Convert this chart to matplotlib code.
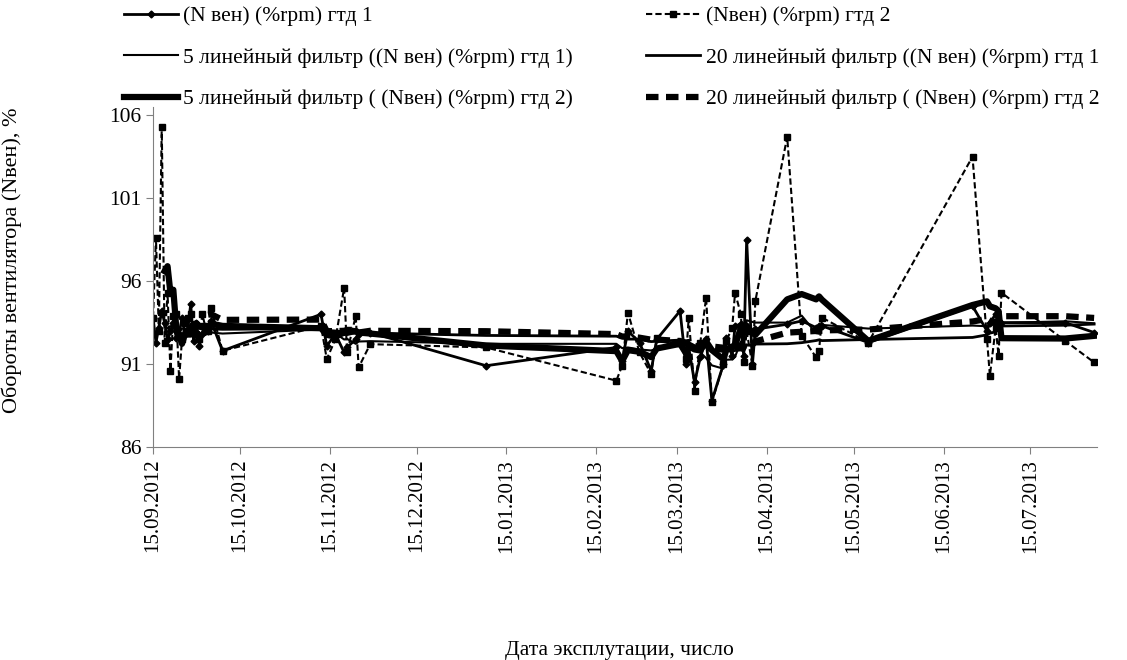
import pandas as pd
import matplotlib
matplotlib.use("Agg")
import matplotlib.pyplot as plt
import matplotlib.dates as mdates

plt.rcParams['font.family'] = ['Liberation Serif', 'DejaVu Serif']

# measurement dates (shared by both engines)
dates = ["2012-09-15", "2012-09-16", "2012-09-17", "2012-09-18", "2012-09-19",
         "2012-09-20", "2012-09-21", "2012-09-22", "2012-09-23", "2012-09-24",
         "2012-09-25", "2012-09-26", "2012-09-27", "2012-09-28", "2012-09-29",
         "2012-09-30", "2012-10-01", "2012-10-02", "2012-10-03", "2012-10-04",
         "2012-10-05", "2012-10-09", "2012-11-12", "2012-11-14", "2012-11-17",
         "2012-11-20", "2012-11-21", "2012-11-24", "2012-11-25", "2012-11-29",
         "2013-01-08", "2013-02-22", "2013-02-24", "2013-02-26", "2013-03-02",
         "2013-03-06", "2013-03-08", "2013-03-16", "2013-03-18", "2013-03-19",
         "2013-03-21", "2013-03-23", "2013-03-25", "2013-03-27", "2013-03-31",
         "2013-04-01", "2013-04-03", "2013-04-04", "2013-04-06", "2013-04-07",
         "2013-04-08", "2013-04-10", "2013-04-11", "2013-04-22", "2013-04-27",
         "2013-05-02", "2013-05-03", "2013-05-04", "2013-05-20", "2013-06-25",
         "2013-06-30", "2013-07-01", "2013-07-03", "2013-07-04", "2013-07-05",
         "2013-07-27", "2013-08-06"]

# N вен, %rpm, engine 1
gtd1 = [93.8, 92.3, 93.2, 94.2, 93.5, 92.5, 93.0, 93.5, 92.6, 92.8,
        93.8, 92.9, 93.1, 94.6, 92.4, 93.5, 92.1, 92.8, 93.0, 93.0,
        93.6, 91.8, 94.0, 92.1, 92.8, 91.7, 92.0, 92.5, 92.8, 92.9,
        90.9, 92.0, 91.2, 93.0, 92.3, 90.6, 92.5, 94.2, 91.0, 92.0,
        89.9, 91.4, 92.5, 88.8, 91.0, 92.6, 91.5, 93.3, 93.4, 91.5,
        98.5, 91.0, 93.1, 93.4, 93.6, 93.2, 93.3, 93.3, 92.3, 94.5,
        93.0, 93.5, 94.0, 93.4, 93.5, 93.5, 92.9]

# N вен, %rpm, engine 2
gtd2 = [93.8, 98.6, 93.0, 105.3, 92.3, 95.3, 90.6, 93.9, 94.0, 90.1,
        92.5, 93.5, 93.8, 94.0, 93.2, 92.8, 92.5, 94.0, 93.3, 93.0,
        94.4, 91.8, 93.3, 91.3, 92.5, 95.6, 91.7, 93.9, 90.8, 92.2,
        92.0, 90.0, 90.9, 94.1, 91.7, 90.4, 92.6, 92.3, 91.3, 93.8,
        89.4, 92.3, 95.0, 88.7, 91.0, 92.4, 93.2, 95.3, 94.0, 91.1,
        93.0, 90.9, 94.8, 104.7, 92.7, 91.4, 91.8, 93.8, 92.3, 103.5,
        92.5, 90.3, 93.2, 91.5, 95.3, 92.4, 91.1]

labels = ["(N вен) (%rpm) гтд 1",
          "(Nвен) (%rpm) гтд 2",
          "5 линейный фильтр ((N вен) (%rpm) гтд 1)",
          "20 линейный фильтр ((N вен) (%rpm) гтд 1",
          "5 линейный фильтр ( (Nвен) (%rpm) гтд 2)",
          "20 линейный фильтр ( (Nвен) (%rpm) гтд 2"]

x = pd.to_datetime(dates)
s1 = pd.Series(gtd1, index=x)
s2 = pd.Series(gtd2, index=x)

fig = plt.figure(figsize=(11.27, 6.60), dpi=100)
ax = fig.add_axes([0.1358, 0.3227, 0.8376, 0.5153])

h1, = ax.plot(x, s1, color="black", lw=2, marker="D", ms=3.5, label=labels[0])
h2, = ax.plot(x, s2, color="black", lw=1.5, ls=(0, (3, 1.5)), marker="s", ms=5,
              label=labels[1])
# Excel-style moving-average trendlines
h3, = ax.plot(x, s1.rolling(5).mean(), color="black", lw=1.5, label=labels[2])
h4, = ax.plot(x, s1.rolling(20).mean(), color="black", lw=2, label=labels[3])
h5, = ax.plot(x, s2.rolling(5).mean(), color="black", lw=4.5, label=labels[4])
h6, = ax.plot(x, s2.rolling(20).mean(), color="black", lw=4.5, ls=(0, (2, 1.2)),
              label=labels[5])

fs = 15.5
ax.set_ylim(86, 106.5)
ax.set_yticks([86, 91, 96, 101, 106])
ax.set_xlim(pd.Timestamp("2012-09-15"), pd.Timestamp("2013-08-07"))
ticks = pd.date_range("2012-09-01", "2013-07-01", freq="MS") + pd.Timedelta(days=14)
ax.set_xticks(ticks)
ax.xaxis.set_major_formatter(mdates.DateFormatter("%d.%m.%Y"))
ax.tick_params(axis="x", rotation=90, labelsize=15, length=5, color="#808080")
ax.tick_params(axis="y", labelsize=fs, length=5, color="#808080")
for sp in ("top", "right"):
    ax.spines[sp].set_visible(False)
for sp in ("left", "bottom"):
    ax.spines[sp].set_color("#808080")

ax.set_ylabel("Обороты вентилятора (Nвен), %", fontsize=16)
ax.yaxis.set_label_coords(-0.139, 0.55)
fig.text(0.55, 0.008, "Дата эксплутации, число", ha="center", fontsize=fs)

fig.legend(handles=[h1, h3, h5, h2, h4, h6], ncol=2, loc="upper left",
           bbox_to_anchor=(0.093, 1.02), frameon=False, fontsize=fs,
           handlelength=2.5, columnspacing=3.4, labelspacing=1.0,
           handletextpad=0.25)

fig.savefig("out.png", dpi=100)
